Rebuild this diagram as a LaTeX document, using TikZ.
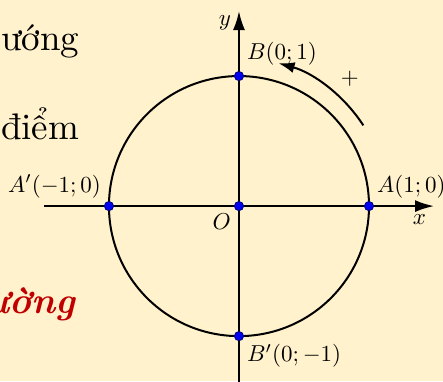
\documentclass[tikz,border=0pt]{standalone}
\usepackage{fontspec}
\usetikzlibrary{arrows.meta,positioning}
\definecolor{bgcream}{HTML}{FFF2CC}
\definecolor{pointblue}{HTML}{0000F0}
\definecolor{wordred}{HTML}{C00000}

\begin{document}
\begin{tikzpicture}[x=65pt,y=65pt,
    axis/.style={line width=1pt,-{Latex[length=9.5pt,width=6pt]}},
    dot/.style={circle,fill=pointblue,draw=pointblue!50!black,line width=0.4pt,inner sep=0pt,minimum size=4.6pt},
    lbl/.style={scale=1.15},
    word/.style={anchor=base east,inner sep=0pt,scale=1.85}]
  \fill[bgcream] (-1.838,-1.346) rectangle (1.569,1.585);
  \useasboundingbox (-1.838,-1.346) rectangle (1.569,1.585);
  % words of the text beside the figure
  \node[word] (w1) at (-1.223,1.2) {ướng};
  \node[word] (w2) at (-1.223,0.515) {điểm};
  \node[word,text=wordred,font=\bfseries\itshape] (w3) at (-1.254,-0.823) {ường};
  % axes and circle
  \coordinate (O) at (0,0);
  \coordinate (xs) at (-1.5,0);
  \coordinate (xe) at (1.5,0);
  \coordinate (ys) at (0,-1.5);
  \coordinate (ye) at (0,1.5);
  \draw[axis] (xs) -- (xe);
  \draw[axis] (ys) -- (ye);
  \node[lbl,below left] (xl) at (xe) {$x$};
  \node[lbl,left,yshift=-5pt] (yl) at (ye) {$y$};
  \draw[line width=1pt] (O) circle (1);
  \coordinate (as) at (33:1.14);
  \draw[line width=1pt,-{Latex[length=8pt,width=5.5pt]}] (as) arc (33:74.5:1.14) coordinate (ae);
  \node[lbl] (plus) at (49:1.3) {$+$};
  % points
  \coordinate (A) at (1,0);
  \coordinate (B) at (0,1);
  \coordinate (A1) at (-1,0);
  \coordinate (B1) at (0,-1);
  \node[lbl,below left] (Ol) at (O) {$O$};
  \node[lbl,above right] (Al) at (A) {$A(1;0)$};
  \node[lbl,above right,yshift=1pt] (Bl) at (B) {$B(0;1)$};
  \node[lbl,above left] (A1l) at (A1) {$A'(-1;0)$};
  \node[lbl,below right] (B1l) at (B1) {$B'(0;-1)$};
  \foreach \p in {O,A,B,A1,B1}{\node[dot] at (\p) {};}
\end{tikzpicture}
\end{document}
